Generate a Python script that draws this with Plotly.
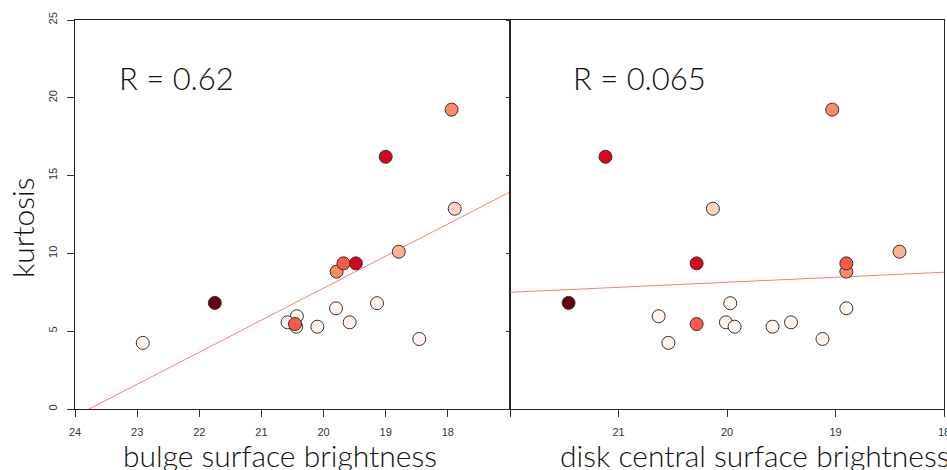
import plotly.graph_objects as go

# ---- data ----
kurtosis = [6.80, 6.47, 5.96, 5.57, 5.57, 5.29, 5.29, 4.50, 4.25,
            12.87, 10.11, 19.24, 8.83, 9.36, 5.46, 9.36, 16.21, 6.82]
bulge_sb = [19.14, 19.80, 20.43, 20.58, 19.58, 20.44, 20.10, 18.46, 22.91,
            17.89, 18.79, 17.94, 19.79, 19.68, 20.46, 19.48, 19.00, 21.75]
disk_sb = [19.97, 18.90, 20.63, 20.01, 19.41, 19.93, 19.58, 19.12, 20.54,
           20.13, 18.41, 19.03, 18.90, 18.90, 20.28, 20.28, 21.12, 21.46]
point_colors = ["#FFF3EE"] * 9 + ["#FDD5C4", "#FCAF93", "#FC8A6A", "#FC8A6A",
                                  "#FB5B46", "#FB5B46", "#D6061E", "#D6061E", "#67000D"]

fit_bulge = {"intercept": 48.97, "slope": -2.06}
fit_disk = {"intercept": 14.595, "slope": -0.3225}
r_bulge = "R = 0.62"
r_disk = "R = 0.065"

bulge_range = [24, 17]
disk_range = [22, 18]
bulge_ticks = [24, 23, 22, 21, 20, 19, 18, 17]
bulge_ticktext = ["24", "23", "22", "21", "20", "19", "18", ""]
disk_ticks = [22, 21, 20, 19, 18]
disk_ticktext = ["", "21", "20", "19", "18"]
kurt_ticks = [0, 5, 10, 15, 20, 25]

# ---- figure ----
fig = go.Figure()
line_col = "#FA8072"
marker = dict(size=13, color=point_colors, line=dict(color="#333333", width=1), opacity=1)

fx = [17, 24]
fig.add_trace(go.Scatter(x=fx, y=[fit_bulge["intercept"] + fit_bulge["slope"] * v for v in fx],
                         mode="lines", line=dict(color=line_col, width=1), xaxis="x", yaxis="y",
                         hoverinfo="skip"))
fig.add_trace(go.Scatter(x=bulge_sb, y=kurtosis, mode="markers", marker=marker,
                         xaxis="x", yaxis="y"))
dx = [18, 22]
fig.add_trace(go.Scatter(x=dx, y=[fit_disk["intercept"] + fit_disk["slope"] * v for v in dx],
                         mode="lines", line=dict(color=line_col, width=1), xaxis="x2", yaxis="y2",
                         hoverinfo="skip"))
fig.add_trace(go.Scatter(x=disk_sb, y=kurtosis, mode="markers", marker=marker,
                         xaxis="x2", yaxis="y2"))

tickfont = dict(family="Liberation Sans, Arial, sans-serif", size=11, color="#333333")
ax_common = dict(showline=True, linecolor="#222222", linewidth=1, mirror=True,
                 ticks="outside", ticklen=7, tickcolor="#333333", tickwidth=1,
                 showgrid=False, zeroline=False, tickfont=tickfont, automargin=False)

split = 435 / 869
fig.update_layout(
    width=947, height=470,
    margin=dict(l=75, r=3, t=20, b=61, autoexpand=False),
    paper_bgcolor="white", plot_bgcolor="white",
    showlegend=False,
    xaxis=dict(domain=[0, split], range=bulge_range, tickvals=bulge_ticks,
               ticktext=bulge_ticktext, anchor="y", ticklabelstandoff=6, **ax_common),
    xaxis2=dict(domain=[split, 1], range=disk_range, tickvals=disk_ticks,
                ticktext=disk_ticktext, anchor="y2", ticklabelstandoff=6,
                ticklabeloverflow="allow", **ax_common),
    yaxis=dict(domain=[0, 1], range=[0, 25], tickvals=kurt_ticks, tickangle=-90,
               anchor="x", ticklabelstandoff=6, **ax_common),
    yaxis2=dict(domain=[0, 1], range=[0, 25], tickvals=kurt_ticks, showticklabels=False,
                anchor="x2", **{**ax_common, "ticklen": 3}),
)

title_font = dict(family="Lato, Liberation Sans, sans-serif", size=30, color="#111111", weight=300)
annos = [
    dict(text=r_bulge, x=23.32, y=21.27, xref="x", yref="y", xanchor="left", yanchor="middle",
         showarrow=False, font=dict(**{**title_font, "size": 31})),
    dict(text=r_disk, x=21.44, y=21.27, xref="x2", yref="y2", xanchor="left", yanchor="middle",
         showarrow=False, font=dict(**{**title_font, "size": 31})),
    dict(text="kurtosis", x=(22 - 75) / 869, y=(409 - 228) / 389, xref="paper", yref="paper",
         textangle=-90, xanchor="center", yanchor="middle", showarrow=False, font=title_font),
    dict(text="bulge surface brightness", x=(280 - 75) / 869, y=(409 - 455) / 389,
         xref="paper", yref="paper", xanchor="center", yanchor="middle", showarrow=False,
         font=title_font),
    dict(text="disk central surface brightness", x=(557.7 - 75) / 869, y=(409 - 455) / 389,
         xref="paper", yref="paper", xanchor="left", yanchor="middle", showarrow=False,
         font=title_font),
]
fig.update_layout(annotations=annos)

fig.write_html("out.html")
